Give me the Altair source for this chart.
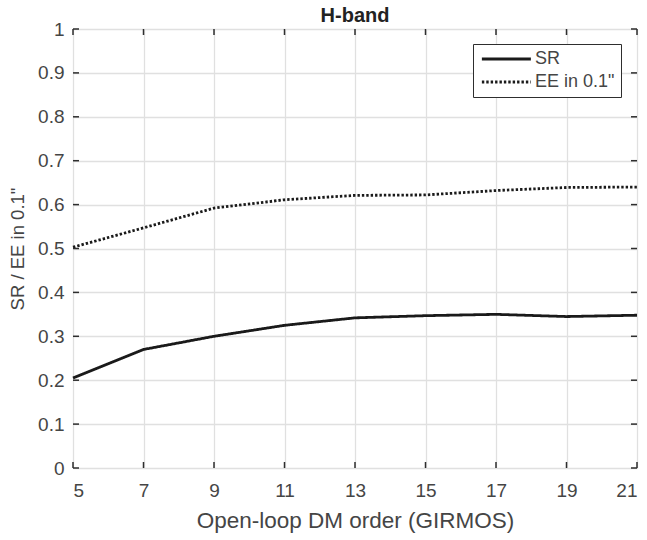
import altair as alt
import pandas as pd

orders = [5, 7, 9, 11, 13, 15, 17, 19, 21]
sr_values = [0.205, 0.270, 0.300, 0.325, 0.342, 0.347, 0.350, 0.345, 0.348]
ee_values = [0.503, 0.547, 0.592, 0.611, 0.621, 0.622, 0.632, 0.639, 0.640]
series_names = ["SR", 'EE in 0.1"']
x_ticks = [5, 7, 9, 11, 13, 15, 17, 19, 21]
y_ticks = [0, 0.1, 0.2, 0.3, 0.4, 0.5, 0.6, 0.7, 0.8, 0.9, 1.0]

df = pd.DataFrame({
    "order": orders + orders,
    "value": sr_values + ee_values,
    "series": [series_names[0]] * len(orders) + [series_names[1]] * len(orders),
})
xt = pd.DataFrame({"t": x_ticks})
yt = pd.DataFrame({"t": y_ticks})

W, H = 564, 439
FONT = "Liberation Sans"
AX = "#2e2e2e"
TXT = "#454545"

xs = alt.Scale(domain=[5, 21], nice=False, zero=False)
ys = alt.Scale(domain=[0, 1], nice=False)

lines = alt.Chart(df).mark_line(color="#1a1a1a", strokeWidth=2.8).encode(
    x=alt.X("order:Q", scale=xs,
            axis=alt.Axis(values=x_ticks, title="Open-loop DM order (GIRMOS)",
                          grid=True, gridColor="#e0e0e0", gridWidth=1.3,
                          domain=False, ticks=False, labelPadding=13,
                          labelFontSize=19, labelColor=TXT, labelFont=FONT,
                          titleFontSize=22.5, titleColor=TXT, titleFont=FONT,
                          titleFontWeight="normal", titlePadding=9)),
    y=alt.Y("value:Q", scale=ys,
            axis=alt.Axis(values=y_ticks, title='SR / EE in 0.1"', format="~g",
                          grid=True, gridColor="#e0e0e0", gridWidth=1.3,
                          domain=False, ticks=False, labelPadding=9,
                          labelFontSize=19, labelColor=TXT, labelFont=FONT,
                          titleFontSize=18.5, titleColor=TXT, titleFont=FONT,
                          titleFontWeight="normal", titlePadding=10)),
    strokeDash=alt.StrokeDash("series:N",
        scale=alt.Scale(domain=series_names, range=[[1, 0], [2.4, 2]]),
        legend=alt.Legend(title=None, orient="none", legendX=400, legendY=15,
                          strokeColor=AX, fillColor="white", padding=6,
                          symbolType="M-1,0H7", symbolSize=150,
                          symbolStrokeWidth=2.8, symbolStrokeColor="#1a1a1a",
                          labelFontSize=18, labelFont=FONT, labelColor=TXT,
                          labelOffset=38, rowPadding=5, cornerRadius=0)),
    order=alt.Order("order:Q"),
)

tick_len = 6
xb = alt.Chart(xt).mark_rule(color=AX, strokeWidth=1.5).encode(
    x=alt.X("t:Q", scale=xs), y=alt.value(H), y2=alt.value(H - tick_len))
xtp = alt.Chart(xt).mark_rule(color=AX, strokeWidth=1.5).encode(
    x=alt.X("t:Q", scale=xs), y=alt.value(0), y2=alt.value(tick_len))
yl = alt.Chart(yt).mark_rule(color=AX, strokeWidth=1.5).encode(
    y=alt.Y("t:Q", scale=ys), x=alt.value(0), x2=alt.value(tick_len))
yr = alt.Chart(yt).mark_rule(color=AX, strokeWidth=1.5).encode(
    y=alt.Y("t:Q", scale=ys), x=alt.value(W), x2=alt.value(W - tick_len))

chart = alt.layer(lines, xb, xtp, yl, yr).properties(
    width=W, height=H,
    title=alt.TitleParams("H-band", fontSize=20, font=FONT, fontWeight="bold",
                          color="#222222", offset=-6),
    autosize=alt.AutoSizeParams(type="none"),
    padding={"left": 73, "top": 29, "right": 10, "bottom": 72},
).configure_view(stroke=AX, strokeWidth=2.4).configure(background="white")

chart.save("out.html", embed_options={"renderer": "svg", "actions": False})
